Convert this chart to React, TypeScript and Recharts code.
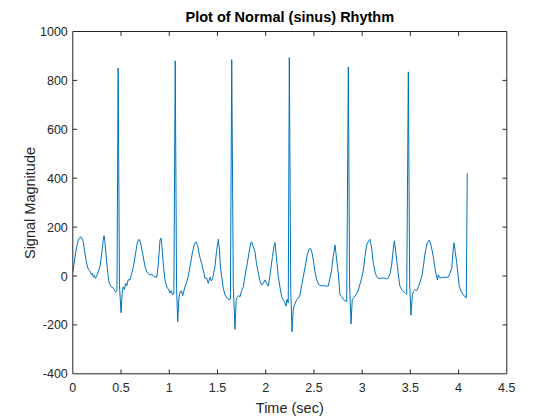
import { LineChart, Line, XAxis, YAxis, ReferenceLine } from "recharts";

// ECG trace (seconds, magnitude)
const timeSec = [
  0.0, 0.01, 0.023, 0.04, 0.057, 0.075, 0.085, 0.097, 0.109, 0.125, 0.144, 0.16, 0.178, 0.195, 0.205, 0.213,
  0.225, 0.235, 0.248, 0.262, 0.282, 0.3, 0.315, 0.324, 0.333, 0.351, 0.365, 0.378, 0.395, 0.42, 0.445, 0.458,
  0.47, 0.484, 0.5, 0.512, 0.522, 0.535, 0.548, 0.56, 0.575, 0.593, 0.61, 0.628, 0.65, 0.668, 0.685, 0.7,
  0.72, 0.749, 0.77, 0.8, 0.82, 0.84, 0.87, 0.885, 0.904, 0.915, 0.925, 0.94, 0.956, 0.975, 0.992, 1.008,
  1.02, 1.036, 1.048, 1.062, 1.076, 1.088, 1.1, 1.11, 1.125, 1.14, 1.163, 1.185, 1.2, 1.215, 1.24, 1.26,
  1.277, 1.295, 1.315, 1.336, 1.355, 1.371, 1.388, 1.405, 1.423, 1.438, 1.45, 1.462, 1.474, 1.49, 1.509, 1.52,
  1.53, 1.544, 1.56, 1.578, 1.6, 1.62, 1.634, 1.648, 1.664, 1.682, 1.694, 1.7, 1.72, 1.734, 1.75, 1.768,
  1.785, 1.803, 1.825, 1.845, 1.855, 1.87, 1.889, 1.905, 1.924, 1.94, 1.959, 1.975, 1.993, 2.01, 2.028, 2.04,
  2.052, 2.07, 2.088, 2.097, 2.11, 2.131, 2.15, 2.166, 2.185, 2.2, 2.21, 2.222, 2.234, 2.245, 2.26, 2.273,
  2.285, 2.294, 2.32, 2.34, 2.356, 2.372, 2.39, 2.41, 2.43, 2.45, 2.465, 2.48, 2.494, 2.51, 2.529, 2.55,
  2.581, 2.6, 2.62, 2.65, 2.665, 2.684, 2.7, 2.719, 2.735, 2.753, 2.77, 2.79, 2.805, 2.822, 2.84, 2.857,
  2.87, 2.885, 2.897, 2.909, 2.93, 2.945, 2.961, 2.98, 3.0, 3.013, 3.03, 3.047, 3.07, 3.082, 3.1, 3.116,
  3.135, 3.151, 3.175, 3.203, 3.23, 3.25, 3.27, 3.29, 3.306, 3.32, 3.334, 3.345, 3.366, 3.38, 3.393, 3.42,
  3.445, 3.462, 3.479, 3.493, 3.507, 3.52, 3.531, 3.55, 3.565, 3.583, 3.6, 3.618, 3.635, 3.652, 3.675, 3.697,
  3.715, 3.738, 3.76, 3.78, 3.79, 3.808, 3.83, 3.86, 3.894, 3.91, 3.929, 3.945, 3.953, 3.965, 3.981, 4.008,
  4.03, 4.05, 4.07, 4.08, 4.09,
];

const magnitude = [
  15, 40, 79, 120, 147, 158, 160, 152, 138, 95, 52, 28, 20, 5, 12, -5,
  2, -10, 0, 15, 40, 90, 145, 165, 140, 58, 5, -30, -42, -50, -65, -60,
  850, -40, -150, -70, -45, -55, -30, -40, -15, -16, 10, 38, 90, 135, 150, 140,
  100, 38, 15, 4, 8, -2, -5, 40, 147, 155, 120, 40, -16, -45, -55, -70,
  -60, -77, -70, 880, -50, -187, -90, -70, -60, -80, -44, -20, 5, 38, 95, 130,
  140, 125, 80, 52, 20, -9, -9, -30, -5, -20, -10, 15, 38, 100, 150, 110,
  40, -3, -50, -77, -90, -98, -95, 885, -40, -218, -100, -91, -80, -85, -60, -44,
  0, 38, 90, 135, 140, 120, 99, 50, 11, -20, -37, -30, -16, -30, -41, -10,
  25, 80, 125, 136, 80, -3, -50, -85, -100, -110, -123, -95, -110, 893, -60, -228,
  -140, -123, -98, -90, -77, -40, -3, 40, 85, 110, 113, 95, 65, 20, -16, -35,
  -41, -38, -42, -41, -10, 25, 80, 127, 70, 11, -77, -85, -95, -101, -105, 855,
  -40, -196, -100, -91, -80, -70, -57, -30, 0, 25, 80, 127, 145, 150, 110, 52,
  15, -3, -10, -9, -8, -12, -9, 10, 45, 100, 144, 110, 38, -10, -44, -60,
  -68, -75, 835, -40, -160, -80, -64, -55, -60, -44, -25, -3, 40, 93, 135, 147,
  125, 79, 20, -16, 5, -9, -5, -6, -4, 10, 31, 110, 136, 100, 52, -44,
  -65, -77, -87, -90, 420,
];

const xTicks = [0, 0.5, 1, 1.5, 2, 2.5, 3, 3.5, 4, 4.5];
const yTicks = [-400, -200, 0, 200, 400, 600, 800, 1000];

const data = timeSec.map((t, i) => ({ t, v: magnitude[i] }));

const INK = "#262626";
const FONT = "'Liberation Sans', Arial, Helvetica, sans-serif";
const TICK_LEN = 4.3;

// plot box, matching MATLAB's default axes position in a 560x420 figure
const BOX = { left: 72.8, top: 31.5, width: 434, height: 342.3 };
const Y_AXIS_W = 40;
const X_AXIS_H = 30;

const isEdgeX = (v: number) => v === xTicks[0] || v === xTicks[xTicks.length - 1];
const isEdgeY = (v: number) => v === yTicks[0] || v === yTicks[yTicks.length - 1];

// bottom tick also draws its twin on the top edge (ticks point inward)
function BottomTick({ x, y, payload }: any) {
  const edge = isEdgeX(payload.value);
  return (
    <g>
      {!edge && (
        <>
          <line x1={x} x2={x} y1={y} y2={y - TICK_LEN} stroke={INK} />
          <line x1={x} x2={x} y1={y - BOX.height} y2={y - BOX.height + TICK_LEN} stroke={INK} />
        </>
      )}
      <text x={x} y={y + 18} textAnchor="middle" fill={INK} fontSize={12.5} fontFamily={FONT}>
        {payload.value}
      </text>
    </g>
  );
}

function LeftTick({ x, y, payload }: any) {
  const edge = isEdgeY(payload.value);
  return (
    <g>
      {!edge && (
        <>
          <line x1={x} x2={x + TICK_LEN} y1={y} y2={y} stroke={INK} />
          <line x1={x + BOX.width} x2={x + BOX.width - TICK_LEN} y1={y} y2={y} stroke={INK} />
        </>
      )}
      <text x={x - 5} y={y + 4.5} textAnchor="end" fill={INK} fontSize={12.5} fontFamily={FONT}>
        {payload.value}
      </text>
    </g>
  );
}

export default function App() {
  return (
    <div
      style={{
        position: "absolute",
        left: 0,
        top: 0,
        width: 560,
        height: 420,
        background: "#fff",
        fontFamily: FONT,
      }}
    >
      <LineChart
        width={560}
        height={420}
        data={data}
        margin={{
          top: BOX.top,
          right: 560 - BOX.left - BOX.width,
          bottom: 420 - BOX.top - BOX.height - X_AXIS_H,
          left: BOX.left - Y_AXIS_W,
        }}
      >
        <XAxis
          dataKey="t"
          type="number"
          domain={[0, 4.5]}
          ticks={xTicks}
          allowDataOverflow
          height={X_AXIS_H}
          tickSize={0}
          tickMargin={0}
          tickLine={false}
          axisLine={{ stroke: INK }}
          tick={<BottomTick />}
          interval={0}
        />
        <YAxis
          type="number"
          domain={[-400, 1000]}
          ticks={yTicks}
          allowDataOverflow
          width={Y_AXIS_W}
          tickSize={0}
          tickMargin={0}
          tickLine={false}
          axisLine={{ stroke: INK }}
          tick={<LeftTick />}
          interval={0}
        />
        <ReferenceLine y={1000} stroke={INK} strokeWidth={1} ifOverflow="extendDomain" />
        <ReferenceLine x={4.5} stroke={INK} strokeWidth={1} ifOverflow="extendDomain" />
        <Line
          type="linear"
          dataKey="v"
          stroke="#0072BD"
          strokeWidth={1}
          dot={false}
          activeDot={false}
          isAnimationActive={false}
        />
      </LineChart>

      <div
        style={{
          position: "absolute",
          left: BOX.left + BOX.width / 2 - 150,
          width: 300,
          top: 8,
          textAlign: "center",
          fontSize: 14.5,
          fontWeight: "bold",
          color: "#000",
          lineHeight: "18px",
        }}
      >
        Plot of Normal (sinus) Rhythm
      </div>
      <div
        style={{
          position: "absolute",
          left: BOX.left + BOX.width / 2 - 100,
          width: 200,
          top: 399,
          textAlign: "center",
          fontSize: 14.5,
          color: INK,
          lineHeight: "18px",
        }}
      >
        Time (sec)
      </div>
      <div
        style={{
          position: "absolute",
          left: 30 - 80,
          top: 203 - 9,
          width: 160,
          textAlign: "center",
          fontSize: 14.5,
          color: INK,
          lineHeight: "18px",
          transform: "rotate(-90deg)",
        }}
      >
        Signal Magnitude
      </div>
    </div>
  );
}
